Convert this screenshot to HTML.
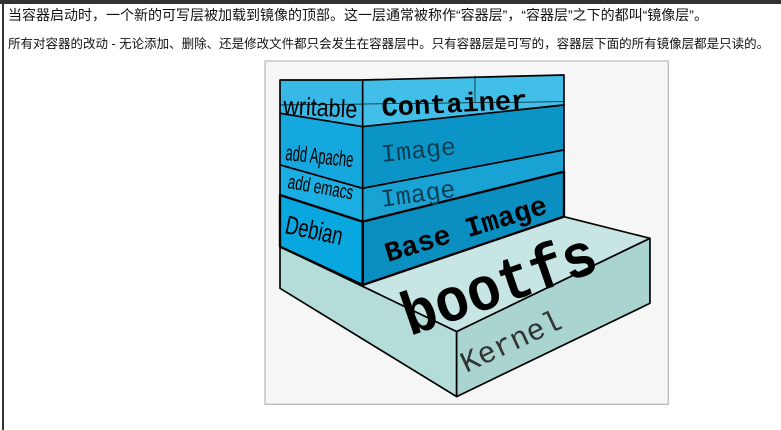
<!DOCTYPE html>
<html><head><meta charset="utf-8"><style>
html,body{margin:0;padding:0;background:#fff;width:781px;height:430px;overflow:hidden}
.top{position:absolute;left:0;top:0;width:781px;height:4px;background:#333}
.lb{position:absolute;left:2px;top:0;width:2px;height:430px;background:#333}
.t{position:absolute;font-family:"Liberation Sans","Noto Sans CJK SC",sans-serif;color:#111;white-space:nowrap}
svg{position:absolute;left:0;top:0}
</style></head><body>
<div class="top"></div><div class="lb"></div>
<div class="t" style="left:8px;top:5px;font-size:14px;">当容器启动时，一个新的可写层被加载到镜像的顶部。这一层通常被称作“容器层”，“容器层”之下的都叫“镜像层”。</div>
<div class="t" style="left:8px;top:33px;font-size:12.5px;">所有对容器的改动 - 无论添加、删除、还是修改文件都只会发生在容器层中。只有容器层是可写的，容器层下面的所有镜像层都是只读的。</div>
<svg width="781" height="430" viewBox="0 0 781 430">
<g transform="translate(260,55) scale(0.3333)" stroke="#000" stroke-width="5" stroke-linejoin="round">
<rect x="15" y="18" width="1210" height="1030" fill="#f6f6f6" stroke="#bbb" stroke-width="4"/>
<polygon points="60,575 310,690 912,485 1170,550 590,830" fill="#c6e5e3"/>
<polygon points="60,575 590,830 590,1025 60,700" fill="#b4dcd9"/>
<polygon points="590,830 1170,550 1170,745 590,1025" fill="#a9d4d0"/>
<polygon points="308,75 912,60 912,150 308,215" fill="#41bfe8"/>
<polygon points="308,215 912,150 912,285 308,400" fill="#0b95c7"/>
<polygon points="308,400 912,285 912,350 308,500" fill="#18a3d4"/>
<polygon points="308,500 912,350 912,485 308,690" fill="#0a8fc0" stroke-width="7"/>
<polygon points="60,75 308,75 308,215 60,175" fill="#38b8e6"/>
<polygon points="60,175 308,215 308,400 60,330" fill="#14a8de"/>
<polygon points="60,330 308,400 308,500 60,420" fill="#1aaee2"/>
<polygon points="60,420 308,500 308,690 60,575" fill="#08a7df" stroke-width="7"/>
<line x1="60" y1="150" x2="912" y2="140" stroke-width="2"/>
<line x1="645" y1="62" x2="645" y2="140" stroke-width="2"/>
</g>
<g font-family="Liberation Mono,monospace" fill="#000">
<text x="283" y="114" font-family="Liberation Sans,sans-serif" font-size="25" transform="rotate(3 283 114)" textLength="74" lengthAdjust="spacingAndGlyphs">writable</text>
<text x="382" y="116" font-size="27" font-weight="bold" transform="rotate(-3 382 116)">Container</text>
<text x="285" y="160" font-family="Liberation Sans,sans-serif" font-size="22" transform="rotate(6 285 160)" textLength="68" lengthAdjust="spacingAndGlyphs">add Apache</text>
<text x="382" y="162" font-size="25" fill="#0c3f55" transform="rotate(-6 382 162)">Image</text>
<text x="287" y="188" font-family="Liberation Sans,sans-serif" font-size="20" transform="rotate(10 287 188)" textLength="66" lengthAdjust="spacingAndGlyphs">add emacs</text>
<text x="382" y="207" font-size="25" fill="#0c3f55" transform="rotate(-8 382 207)">Image</text>
<text x="284" y="233" font-family="Liberation Sans,sans-serif" font-size="26" transform="rotate(12 284 233)" textLength="58" lengthAdjust="spacingAndGlyphs">Debian</text>
<text x="388" y="262" font-size="28" font-weight="bold" transform="rotate(-17 388 262)">Base Image</text>
<text x="0" y="0" font-size="56" font-weight="bold" transform="translate(410,336) rotate(-19) scale(1,1.1)">bootfs</text>
<text x="466" y="373" font-size="30" fill="#333" transform="rotate(-25 466 373)">Kernel</text>
</g>
</svg>
</body></html>
